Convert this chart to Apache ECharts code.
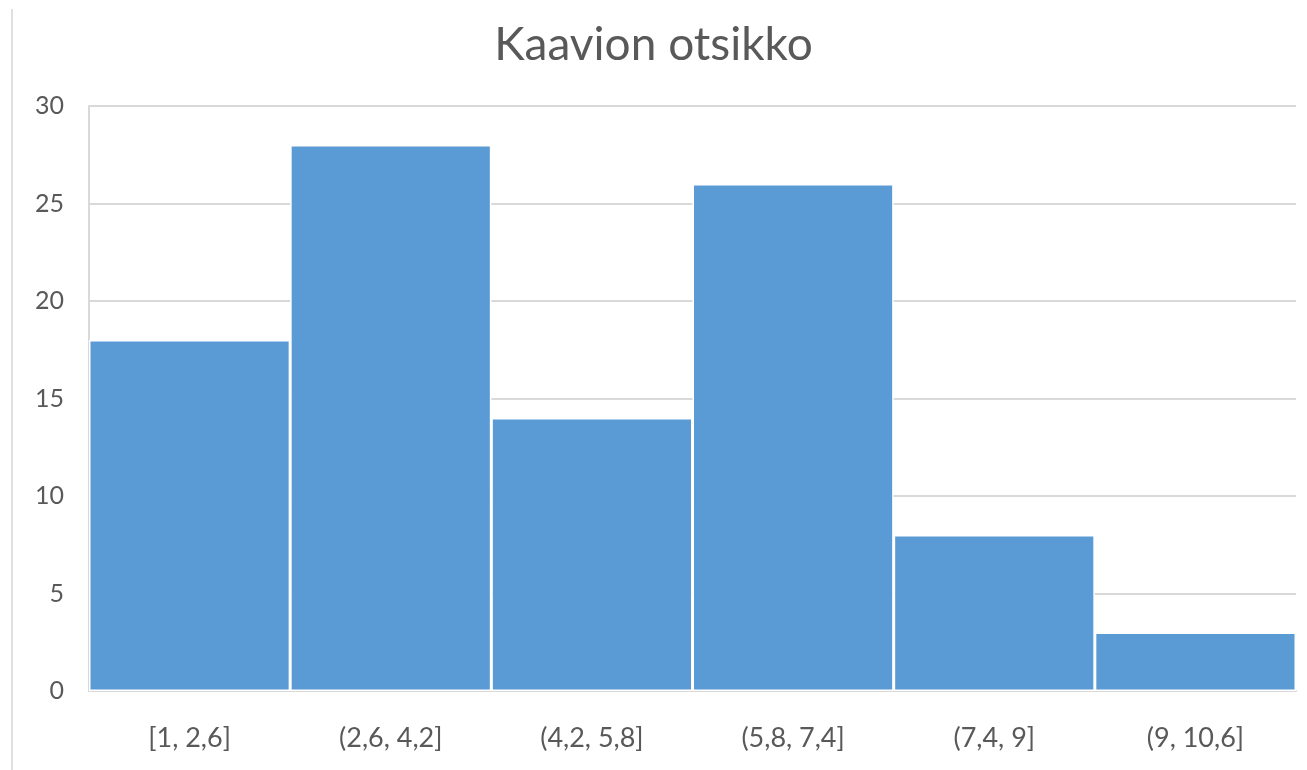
<!DOCTYPE html>
<html>
<head>
<meta charset="utf-8">
<script src="https://cdn.jsdelivr.net/npm/echarts@6/dist/echarts.min.js"></script>
<style>html,body{margin:0;padding:0;background:#fff}#c{width:1307px;height:770px}</style>
</head>
<body>
<div id="c"></div>
<script>
const categories = ['[1, 2,6]', '(2,6, 4,2]', '(4,2, 5,8]', '(5,8, 7,4]', '(7,4, 9]', '(9, 10,6]'];
const counts = [18, 28, 14, 26, 8, 3];
const titleText = 'Kaavion otsikko';

const chart = echarts.init(document.getElementById('c'));
chart.setOption({
  backgroundColor: '#fff',
  animation: false,
  title: {
    text: titleText, left: 'center', top: 17,
    textStyle: { fontFamily: 'Lato', fontSize: 46, fontWeight: 'normal', color: '#595959' }
  },
  graphic: [{
    type: 'line', shape: { x1: 12, y1: 9, x2: 12, y2: 770 },
    style: { stroke: '#e0e0e0', lineWidth: 2 }
  }],
  grid: { left: 89, right: 11, top: 106, bottom: 79 },
  xAxis: {
    type: 'category', data: categories,
    axisLine: { lineStyle: { color: '#d9d9d9', width: 2 } },
    axisTick: { show: false },
    axisLabel: { fontFamily: 'Lato', fontSize: 27, color: '#595959', margin: 34 }
  },
  yAxis: {
    type: 'value', min: 0, max: 30, interval: 5,
    axisLine: { show: true, lineStyle: { color: '#d9d9d9', width: 2 } },
    splitLine: { lineStyle: { color: '#d9d9d9', width: 2 } },
    axisLabel: { fontFamily: 'Lato', fontSize: 25, color: '#595959', margin: 25 }
  },
  series: [{
    type: 'bar', data: counts, barCategoryGap: 0,
    itemStyle: { color: '#5B9BD5', borderColor: '#ffffff', borderWidth: 1.5 }
  }]
});
</script>
</body>
</html>
